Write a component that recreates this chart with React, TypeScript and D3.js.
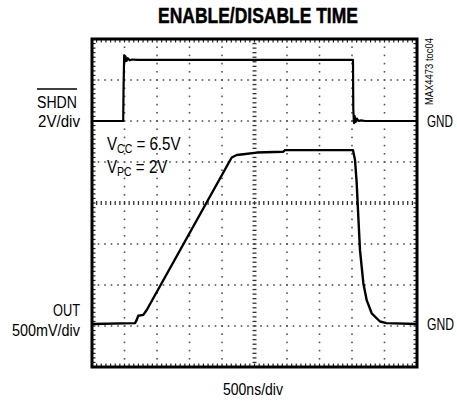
import React from "react";
import * as d3 from "d3";

// time in microseconds (500ns/div, 10 divisions)
const shdnT = [0, 0.48, 0.485, 0.495, 0.505, 0.515, 0.53, 0.55, 0.58, 0.62, 0.7, 4.015, 4.02, 4.03, 4.04, 4.055, 4.075, 4.1, 4.14, 4.2, 5.0];
const shdnV = [0, 0, 1.5, 3.2, 2.9, 3.15, 2.93, 3.06, 2.96, 3.0, 2.98, 2.98, 0.6, -0.1, 0.25, -0.05, 0.12, 0, 0.03, 0, 0];

const outT = [0, 0.662, 0.688, 0.712, 0.789, 0.842, 2.149, 2.226, 2.328, 2.534, 2.943, 2.969, 4.015, 4.046, 4.072, 4.097, 4.123, 4.174, 4.226, 4.303, 4.43, 4.53, 5.0];
const outV = [0, 0.01, 0.05, 0.1, 0.11, 0.17, 2.03, 2.06, 2.07, 2.09, 2.1, 2.12, 2.12, 2.0, 1.72, 1.31, 0.9, 0.5, 0.29, 0.13, 0.03, 0.01, 0];

const xDivs = 10;
const yDivs = 8;
const usPerDiv = 0.5;
const shdnVoltsPerDiv = 2;
const outVoltsPerDiv = 0.5;
const shdnGndDiv = 6.0;
const outGndDiv = 1.05;

const FONT = "'Liberation Sans', Arial, sans-serif";

let ctx: CanvasRenderingContext2D | null = null;
function measure(text: string, size: number, weight: string) {
  if (!ctx) ctx = document.createElement("canvas").getContext("2d");
  if (!ctx) return text.length * size * 0.55;
  ctx.font = `${weight} ${size}px ${FONT}`;
  return ctx.measureText(text).width;
}

function Label(props: { x: number; y: number; w: number; size: number; text: string; bold?: boolean; rotate?: boolean }) {
  const { x, y, w, size, text, bold, rotate } = props;
  const nat = measure(text, size, bold ? "bold" : "normal");
  const s = w / nat;
  const tr = rotate ? `translate(${x},${y}) rotate(-90) scale(${s},1)` : `translate(${x},${y}) scale(${s},1)`;
  return (
    <text transform={tr} fontSize={size} fontWeight={bold ? "bold" : "normal"} stroke={bold ? "#000" : "none"} strokeWidth={bold ? 0.5 : 0}>
      {text}
    </text>
  );
}

export default function App() {
  const L = 92, R = 417, T = 39, B = 367;
  const x = d3.scaleLinear().domain([0, xDivs * usPerDiv]).range([L, R]);
  const y = d3.scaleLinear().domain([0, yDivs]).range([B, T]);

  const shdnPts = shdnT.map((t, i) => [t, shdnGndDiv + shdnV[i] / shdnVoltsPerDiv] as [number, number]);
  const outPts = outT.map((t, i) => [t, outGndDiv + outV[i] / outVoltsPerDiv] as [number, number]);
  const line = d3.line<[number, number]>().x(d => x(d[0])).y(d => y(d[1]));

  const dots: React.ReactNode[] = [];
  for (let i = 1; i < xDivs; i++) {
    if (i === xDivs / 2) continue;
    for (let j = 1; j < yDivs * 5; j++) {
      dots.push(<rect key={`v${i}-${j}`} x={x(i * usPerDiv) - 0.8} y={y(j / 5) - 0.8} width={1.6} height={1.6} fill="#555" />);
    }
  }
  for (let j = 1; j < yDivs; j++) {
    if (j === yDivs / 2) continue;
    for (let k = 1; k < xDivs * 5; k++) {
      dots.push(<rect key={`h${j}-${k}`} x={x(k * usPerDiv / 5) - 0.8} y={y(j) - 0.8} width={1.6} height={1.6} fill="#555" />);
    }
  }

  const ticks: React.ReactNode[] = [];
  const nx = xDivs * 7;
  for (let k = 1; k < nx; k++) {
    const xx = x((k / nx) * xDivs * usPerDiv);
    ticks.push(<line key={`ct${k}`} x1={xx} x2={xx} y1={y(4) - 2} y2={y(4) + 2} stroke="#333" strokeWidth={1.3} />);
    ticks.push(<line key={`tt${k}`} x1={xx} x2={xx} y1={T} y2={T + 3.5} stroke="#222" strokeWidth={1.2} />);
    ticks.push(<line key={`bt${k}`} x1={xx} x2={xx} y1={B} y2={B - 3.5} stroke="#222" strokeWidth={1.2} />);
  }
  const ny = yDivs * 9;
  for (let k = 1; k < ny; k++) {
    const yy = y((k / ny) * yDivs);
    ticks.push(<line key={`cv${k}`} x1={x(2.5) - 2} x2={x(2.5) + 2} y1={yy} y2={yy} stroke="#333" strokeWidth={1.3} />);
    ticks.push(<line key={`lt${k}`} x1={L} x2={L + 3.5} y1={yy} y2={yy} stroke="#222" strokeWidth={1.2} />);
    ticks.push(<line key={`rt${k}`} x1={R} x2={R - 3.5} y1={yy} y2={yy} stroke="#222" strokeWidth={1.2} />);
  }

  return (
    <svg width={457} height={402} style={{ position: "absolute", left: 0, top: 0, background: "#fff" }} fontFamily={FONT}>
      <rect x={0} y={0} width={457} height={402} fill="#fff" />
      <Label x={158} y={23} w={200} size={22} bold text="ENABLE/DISABLE TIME" />
      {dots}
      {ticks}
      <path d={line(shdnPts) || ""} fill="none" stroke="#000" strokeWidth={2.2} strokeLinejoin="round" />
      <path d={line(outPts) || ""} fill="none" stroke="#000" strokeWidth={2.4} strokeLinejoin="round" />
      <rect x={L} y={T} width={R - L} height={B - T} fill="none" stroke="#000" strokeWidth={3} />

      <line x1={37} x2={77} y1={89} y2={89} stroke="#000" strokeWidth={1.3} />
      <Label x={37} y={108} w={40} size={17} text="SHDN" />
      <Label x={38} y={127} w={42} size={17} text="2V/div" />
      <Label x={53} y={316} w={27} size={17} text="OUT" />
      <Label x={12} y={336} w={68} size={17} text="500mV/div" />
      <Label x={427} y={127} w={26} size={17} text="GND" />
      <Label x={427} y={330} w={27} size={17} text="GND" />
      <Label x={223} y={395} w={60} size={17} text="500ns/div" />
      <Label x={433} y={105} w={67} size={11} rotate text="MAX4473 toc04" />

      <text transform="translate(107,150) scale(0.84,1)" fontSize={18}>
        V<tspan fontSize={12.5} dy={3}>CC</tspan><tspan dy={-3}> = 6.5V</tspan>
      </text>
      <text transform="translate(107,173) scale(0.84,1)" fontSize={18}>
        V<tspan fontSize={12.5} dy={3}>PC</tspan><tspan dy={-3}> = 2V</tspan>
      </text>
    </svg>
  );
}
